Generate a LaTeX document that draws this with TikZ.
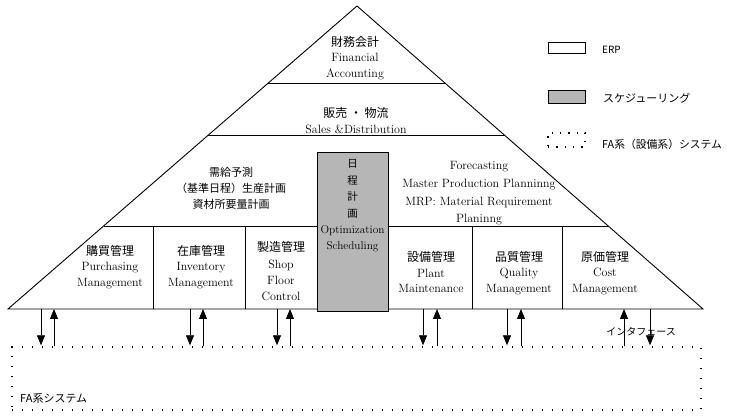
\documentclass[tikz,border=0pt]{standalone}
\usepackage{fontspec}
\newfontfamily\jp{Noto Sans CJK JP}
\usetikzlibrary{arrows.meta,calc}
\definecolor{schedgray}{RGB}{182,182,182}
\begin{document}
\begin{tikzpicture}[x=1pt,y=-1pt,
  edge/.style={line width=0.9pt},
  arr/.style={line width=0.8pt,-{Triangle[length=10pt,width=8pt]}},
  blk/.style={align=center,inner sep=0pt,font=\fontsize{12}{16}\selectfont},
  jtxt/.style={inner sep=0pt,font=\jp\fontsize{11}{13}\selectfont},
  dots/.style={line width=1.4pt,dash pattern=on 1.4pt off 8.6pt},
  ldots/.style={line width=1.3pt,dash pattern=on 1.3pt off 7pt}]
\useasboundingbox (0,0) rectangle (736,419);

% pyramid frame
\coordinate (apex) at (357,6);
\coordinate (L) at (8,309);
\coordinate (R) at (703,309);
\coordinate (s1l) at ($(apex)!0.2541!(L)$);
\coordinate (s1r) at ($(apex)!0.2541!(R)$);
\coordinate (s2l) at ($(apex)!0.4257!(L)$);
\coordinate (s2r) at ($(apex)!0.4257!(R)$);
\coordinate (s3l) at ($(apex)!0.7261!(L)$);
\coordinate (s3r) at ($(apex)!0.7261!(R)$);
\draw[edge,line join=miter] (L) -- (apex) -- (R) -- cycle;
\draw[edge] (s1l) -- (s1r);
\draw[edge] (s2l) -- (s2r);
\draw[edge] (s3l) -- (s3r);
\foreach \x in {153,245,472,562}
  \draw[edge] (\x,0 |- s3l) -- (\x,0 |- L);

% scheduling column
\node[draw,line width=0.9pt,fill=schedgray,minimum width=71pt,minimum height=159pt,inner sep=0pt] (sched) at (352.5,231.5) {};
\node[blk,font=\fontsize{11.3}{16.4}\selectfont] (schedtxt) at (352.5,206) {{\jp\fontsize{10.5}{12}\selectfont 日}\\{\jp\fontsize{10.5}{12}\selectfont 程}\\{\jp\fontsize{10.5}{12}\selectfont 計}\\{\jp\fontsize{10.5}{12}\selectfont 画}\\Optimization\\Scheduling};

% upper levels
\node[blk,font=\fontsize{12}{15.2}\selectfont] (fin) at (355,58) {{\jp\fontsize{12}{14}\selectfont 財務会計}\\Financial\\Accounting};
\node[blk,font=\fontsize{12}{15.5}\selectfont] (sales) at (356,120.5) {{\jp\fontsize{12}{14}\selectfont 販売\ ・\ 物流}\\Sales \&Distribution};

% middle band
\node[blk,font=\jp\fontsize{11}{16}\selectfont] (plan) at (231,188) {需給予測\\（基準日程）生産計画\\資材所要量計画};
\node[blk,font=\fontsize{12}{17.7}\selectfont] (planen) at (479,193.5) {Forecasting\\Master Production Planninng\\MRP: Material Requirement\\Planinng};

% bottom modules
\newcommand{\jh}[1]{{\jp\fontsize{12}{14}\selectfont #1}}
\node[blk,font=\fontsize{12}{15.5}\selectfont] (pur) at (110,267) {\jh{購買管理}\\Purchasing\\Management};
\node[blk,font=\fontsize{12}{15.5}\selectfont] (inv) at (201,267) {\jh{在庫管理}\\Inventory\\Management};
\node[blk,font=\fontsize{12}{16.3}\selectfont] (shop) at (281,271.5) {\jh{製造管理}\\Shop\\Floor\\Control};
\node[blk,font=\fontsize{12}{15.5}\selectfont] (plant) at (431,272) {\jh{設備管理}\\Plant\\Maintenance};
\node[blk,font=\fontsize{12}{15.5}\selectfont] (qual) at (519,273) {\jh{品質管理}\\Quality\\Management};
\node[blk,font=\fontsize{12}{15.5}\selectfont] (cost) at (605,273) {\jh{原価管理}\\Cost\\Management};

% FA system
\node[dots,draw,minimum width=689pt,minimum height=63pt,inner sep=0pt] (fa) at (356.5,378.5) {};
\node[jtxt,anchor=west] (fatxt) at (20,398) {FA系システム};

% interfaces
\foreach \d/\u in {41/54,190/203,277/290,423/437,507/521}{
  \draw[arr,shorten >=1pt] (\d,0 |- L) -- (\d,0 |- fa.north);
  \draw[arr] (\u,0 |- fa.north) -- (\u,0 |- L);
}
\draw[arr] (624,0 |- fa.north) -- (624,0 |- R);
\draw[arr,shorten >=1pt] (650,0 |- R) -- (650,0 |- fa.north);
\node[jtxt,font=\jp\fontsize{10}{12}\selectfont] (iftxt) at (641,332) {インタフェース};

% legend
\node[draw,line width=0.8pt,minimum width=37pt,minimum height=11pt,inner sep=0pt] (lerp) at (566.5,47.5) {};
\node[jtxt,font=\jp\fontsize{10}{12}\selectfont,anchor=west] (lerptxt) at (602,50) {ERP};
\node[draw,line width=0.8pt,fill=schedgray,minimum width=37pt,minimum height=13pt,inner sep=0pt] (lsch) at (566.5,96.5) {};
\node[jtxt,anchor=west] (lschtxt) at (603,98) {スケジューリング};
\node[ldots,draw,minimum width=37pt,minimum height=14pt,inner sep=0pt] (lfa) at (566.5,140) {};
\node[jtxt,font=\jp\fontsize{10.8}{13}\selectfont,anchor=west] (lfatxt) at (602,144) {FA系（設備系）システム};
\end{tikzpicture}
\end{document}
